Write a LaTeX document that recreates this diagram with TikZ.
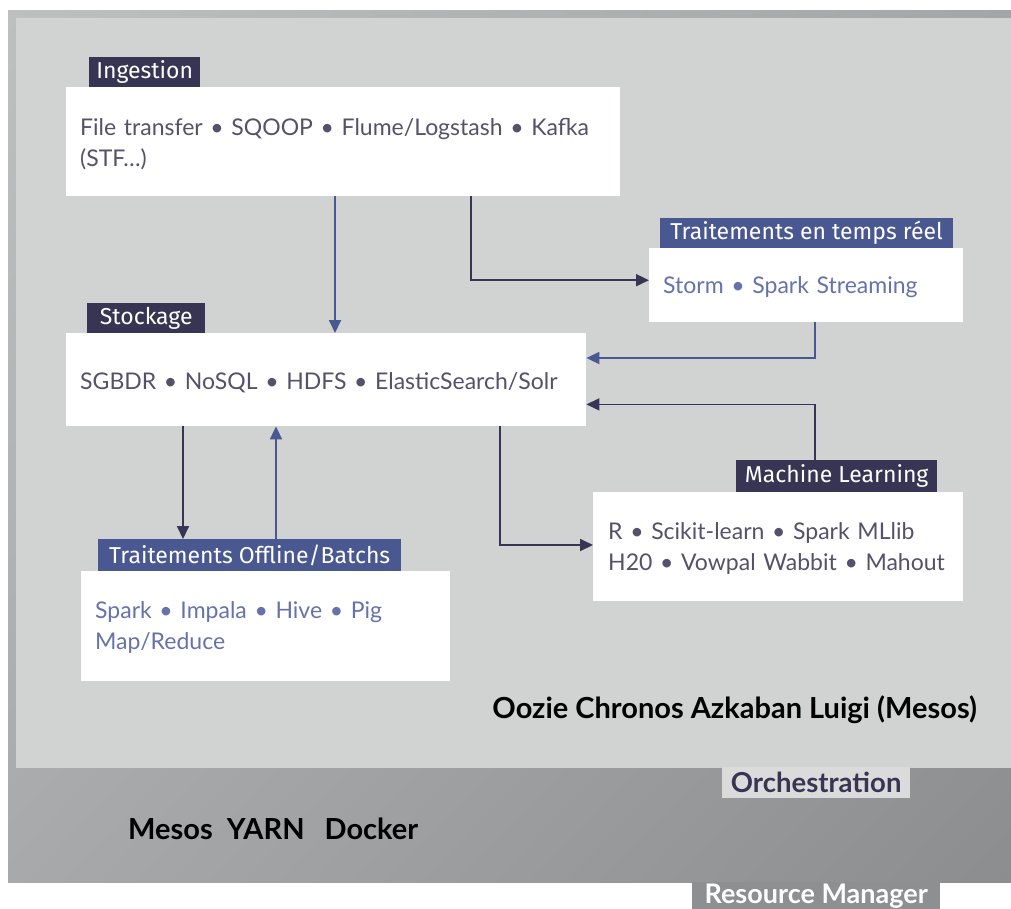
\documentclass[tikz,border=0pt]{standalone}
\usepackage{fontspec}
\setmainfont{Lato}
\newfontfamily\labfont{Fira Sans}
\usetikzlibrary{arrows.meta,calc,shadings}
\definecolor{navy}{HTML}{383454}
\definecolor{bluel}{HTML}{4A5892}
\definecolor{txtdark}{HTML}{55516B}
\definecolor{txtblue}{HTML}{6673AB}
\definecolor{innergray}{HTML}{D1D3D2}
\definecolor{orchbg}{HTML}{DADBDA}
\definecolor{rmbg}{HTML}{8E8F91}
\definecolor{gul}{HTML}{BEC0C0}
\definecolor{gur}{HTML}{A4A5A6}
\definecolor{gll}{HTML}{A8A9AB}
\definecolor{glr}{HTML}{8C8D8F}
\tikzset{
  box/.style={fill=white, draw=none, anchor=north west, align=left, inner xsep=14pt, inner ysep=0pt, font=\fontsize{23}{31}\selectfont},
  lab/.style={draw=none, anchor=north west, text=white, inner sep=0pt, font=\labfont\fontsize{23}{26}\selectfont},
  darkarr/.style={draw=navy, line width=1.8pt, -{Triangle[length=13pt,width=12pt]}},
  bluearr/.style={draw=bluel, line width=1.8pt, -{Triangle[length=13pt,width=12pt]}},
}
\begin{document}
\begin{tikzpicture}[x=1pt,y=-1pt]
\useasboundingbox (0,0) rectangle (1011,908);
\fill[white] (0,0) rectangle (1011,908);
\shade[upper left=gul, upper right=gur, lower left=gll, lower right=glr]
  (8,10) rectangle (1011,882);
\fill[innergray] (16,18) rectangle (1011,768);

% Ingestion
\node[box, text=txtdark, text width=526pt, minimum height=109pt] (ing) at (66,87)
  {\rule{0pt}{22pt}File transfer • SQOOP • Flume/Logstash • Kafka\\(STF…)};
\node[lab, fill=navy, minimum width=111pt, minimum height=30pt] (ingL) at (89,57) {Ingestion};

% Temps reel
\node[box, text=txtblue, text width=286pt, minimum height=74pt] (tr) at (649,248)
  {\rule{0pt}{20pt}Storm • Spark Streaming};
\node[lab, fill=bluel, minimum width=293pt, minimum height=30pt] (trL) at (660,218) {Traitements en temps réel};

% Stockage
\node[box, text=txtdark, text width=492pt, minimum height=93pt] (stk) at (66,333)
  {\rule{0pt}{23pt}SGBDR • NoSQL • HDFS • ElasticSearch/Solr};
\node[lab, fill=navy, minimum width=118pt, minimum height=30pt] (stkL) at (87,303) {Stockage};

% Offline
\node[box, text=txtblue, text width=341pt, minimum height=110pt] (off) at (81,571)
  {\rule{0pt}{20pt}Spark • Impala • Hive • Pig\\Map/Reduce};
\node[lab, fill=bluel, minimum width=303pt, minimum height=32pt] (offL) at (98,539) {Traitements Offline/Batchs};

% Machine learning
\node[box, text=txtdark, text width=340pt, minimum height=109pt, inner xsep=15pt] (ml) at (593,492)
  {\rule{0pt}{20pt}R • Scikit-learn • Spark MLlib\\H20 • Vowpal Wabbit • Mahout};
\node[lab, fill=navy, minimum width=201pt, minimum height=32pt] (mlL) at (736,460) {Machine Learning};

% Arrows
\draw[bluearr] ([xshift=269pt]ing.south west) -- ([xshift=269pt]stk.north west);
\draw[darkarr] ([xshift=405pt]ing.south west) |- ([yshift=5pt]tr.west);
\coordinate (trd) at ([xshift=166pt]tr.south west);
\draw[bluearr] (trd) |- ([yshift=-25pt]stk.north east);
\coordinate (mlu) at ([xshift=79pt]mlL.north west);
\draw[darkarr] (mlu) |- ([yshift=22pt]stk.south east);
\draw[darkarr] ([xshift=117pt]stk.south west) -- ([xshift=85pt]offL.north west);
\draw[bluearr] ([xshift=178pt]offL.north west) -- ([xshift=210pt]stk.south west);
\draw[darkarr] ([xshift=434pt]stk.south west) |- ([yshift=-53pt]ml.north west);

% Orchestration
\node[anchor=north east, font=\bfseries\fontsize{29}{32}\selectfont, inner sep=0pt] (oozie) at (977,696)
  {Oozie Chronos Azkaban Luigi (Mesos)};
\node[anchor=north west, fill=orchbg, text=navy, font=\bfseries\fontsize{27.5}{30}\selectfont, minimum width=188pt, minimum height=31pt, inner sep=0pt] (orch) at (722,767) {Orchestration};

% Resource manager
\node[anchor=west, font=\bfseries\fontsize{29}{32}\selectfont, inner sep=0pt] (rm) at (128,829)
  {Mesos\hspace{14pt}YARN\hspace{20pt}Docker};
\node[anchor=north west, fill=rmbg, text=white, font=\bfseries\fontsize{27}{30}\selectfont, minimum width=248pt, minimum height=28pt, inner sep=0pt] (rmL) at (692,882) {Resource Manager};
\end{tikzpicture}
\end{document}
